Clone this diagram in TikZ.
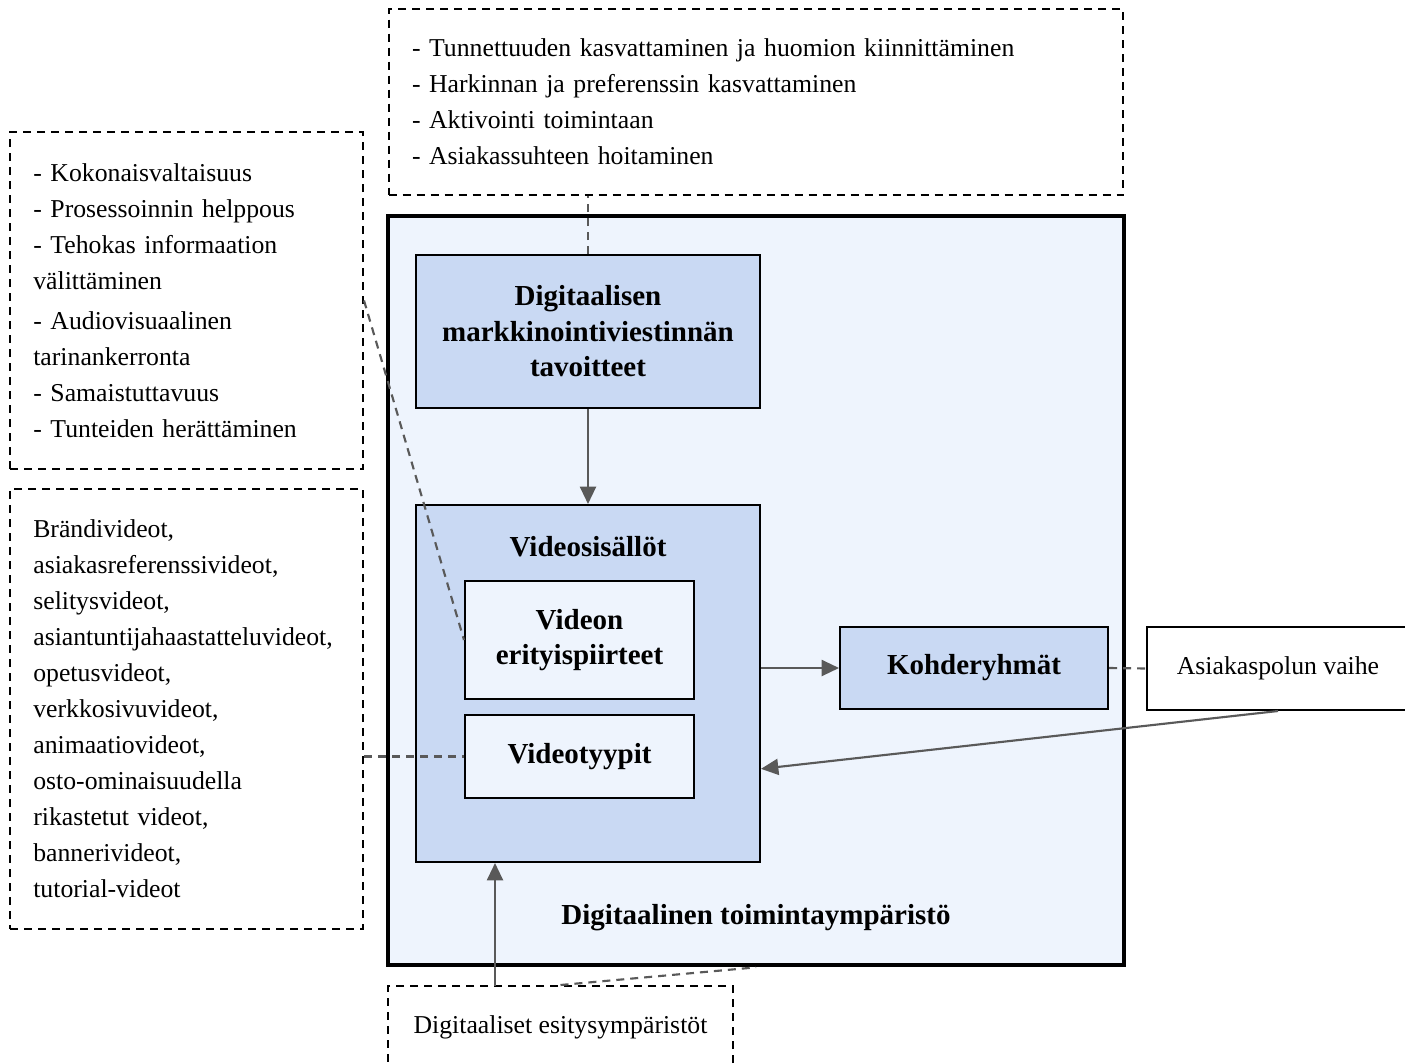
\documentclass[tikz,border=0pt]{standalone}
\usepackage{fontspec}
\setmainfont{Liberation Serif}
\usetikzlibrary{calc, arrows.meta}
\definecolor{envfill}{HTML}{EEF4FD}
\definecolor{boxfill}{HTML}{C9D9F3}
\definecolor{linkgray}{HTML}{595959}

\begin{document}
\begin{tikzpicture}[x=0.75pt, y=-0.75pt, >={Triangle[length=13pt,width=12pt]},
    note/.style={draw, dash pattern=on 6pt off 4.5pt, line width=1.5pt, align=left,
        inner xsep=17.5pt, inner ysep=0pt, font=\fontsize{19.3}{27}\selectfont},
    box/.style={draw, line width=1.5pt, fill=boxfill, align=center, inner sep=0pt,
        font=\bfseries\fontsize{21.75}{26.6}\selectfont},
    title/.style={font=\bfseries\fontsize{21.75}{26.6}\selectfont, inner sep=0pt},
    link/.style={draw=linkgray, line width=1.6pt},
    dlink/.style={link, dash pattern=on 6pt off 4.5pt}]
    \useasboundingbox (0,0) rectangle (1405,1063);

    % Digital environment
    \node[draw, line width=3.5pt, fill=envfill, minimum width=552pt, minimum height=561.75pt] (env) at (756,590.5) {};
    \node[title] (envlabel) at (756,918) {Digitaalinen toimintaympäristö};

    % Boxes inside the environment
    \node[box, minimum width=258pt, minimum height=114.75pt] (goals) at (588,331.5) {Digitaalisen\\markkinointiviestinnän\\tavoitteet};
    \node[box, minimum width=258pt, minimum height=267.75pt] (videos) at (588,683.5) {};
    \node[title] (videostitle) at (588,547) {Videosisällöt};
    \node[box, fill=envfill, minimum width=171.75pt, minimum height=88.5pt] (features) at (579.5,640) {Videon\\erityispiirteet};
    \node[box, fill=envfill, minimum width=171.75pt, minimum height=62.25pt] (types) at (579.5,756.5) {Videotyypit};
    \node[box, minimum width=201pt, minimum height=61.5pt] (targets) at (974,668) {Kohderyhmät};
    \node[draw, line width=1.5pt, fill=white, inner sep=0pt, minimum width=196.5pt, minimum height=62.25pt,
        font=\fontsize{19.3}{27}\selectfont] (stage) at (1278,668.5) {Asiakaspolun vaihe};

    % Notes
    \node[note, text width=516pt, minimum height=139.5pt] (topnote) at (756,102)
        {- Tunnettuuden kasvattaminen ja huomion kiinnittäminen\\- Harkinnan ja preferenssin kasvattaminen\\- Aktivointi toimintaan\\- Asiakassuhteen hoitaminen};
    \node[note, text width=229.75pt, minimum height=252.75pt] (featnote) at (186.5,300.5)
        {- Kokonaisvaltaisuus\\- Prosessoinnin helppous\\- Tehokas informaation\\välittäminen\\[3pt]- Audiovisuaalinen\\tarinankerronta\\- Samaistuttavuus\\- Tunteiden herättäminen};
    \node[note, text width=229.75pt, minimum height=330pt] (typenote) at (186.5,709)
        {Brändivideot,\\asiakasreferenssivideot,\\selitysvideot,\\asiantuntijahaastatteluvideot,\\opetusvideot,\\verkkosivuvideot,\\animaatiovideot,\\osto-ominaisuudella\\rikastetut videot,\\bannerivideot,\\tutorial-videot};
    \node[note, minimum width=258.75pt, minimum height=61.5pt] (envnote) at (560.5,1027) {Digitaaliset esitysympäristöt};

    % Connectors
    \coordinate (envup) at (495,986);
    \draw[dlink] (goals.north) -- (goals.north |- topnote.south);
    \draw[link, ->] (goals.south) -- (videos.north);
    \draw[link, ->] (videos.east |- targets.west) -- (targets.west);
    \draw[dlink] (targets.east) -- (stage.west);
    \draw[link, ->] (stage.south) -- ([yshift=-64pt]videos.east);
    \draw[dlink] (featnote.east) -- (features.west);
    \draw[dlink] (types.west -| typenote.east) -- (types.west);
    \draw[link, ->] (envup) -- (envup |- videos.south);
    \draw[dlink] (envnote.north) -- (env.south);
\end{tikzpicture}
\end{document}
